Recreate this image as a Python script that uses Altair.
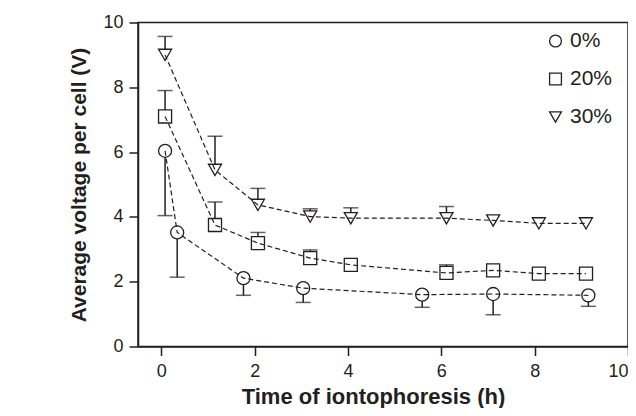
import altair as alt
import pandas as pd

# Series 0% (circles): error bars point downward
t0 = [0.08, 0.34, 1.76, 3.04, 5.59, 7.11, 9.15]
v0 = [6.04, 3.52, 2.11, 1.80, 1.60, 1.62, 1.58]
e0 = [4.04, 2.14, 1.58, 1.36, 1.21, 0.98, 1.24]

# Series 20% (squares) and 30% (triangles): error bars point upward
t20 = [0.08, 1.15, 2.07, 3.19, 4.06, 6.11, 7.11, 8.09, 9.10]
v20 = [7.10, 3.75, 3.19, 2.73, 2.52, 2.27, 2.35, 2.25, 2.25]
e20 = [7.90, 4.46, 3.52, 2.98, None, 2.52, None, None, None]

t30 = [0.08, 1.15, 2.07, 3.19, 4.06, 6.11, 7.11, 8.09, 9.10]
v30 = [9.00, 5.45, 4.37, 4.01, 3.96, 3.96, 3.89, 3.80, 3.80]
e30 = [9.57, 6.49, 4.88, 4.25, 4.28, 4.32, None, None, None]

series = ["0%", "20%", "30%"]
shapes = ["circle", "square", "triangle-down"]

rows = []
for name, ts, vs, es in [("0%", t0, v0, e0), ("20%", t20, v20, e20), ("30%", t30, v30, e30)]:
    for t, v, e in zip(ts, vs, es):
        rows.append({"t": t, "v": v, "err": e, "series": name})
df = pd.DataFrame(rows)

INK = "#231f20"

xs = alt.Scale(domain=[-0.5, 10], nice=False, zero=False)
ys = alt.Scale(domain=[0, 10], nice=False)

x_enc = alt.X("t:Q", scale=xs, axis=alt.Axis(
    values=[0, 2, 4, 6, 8, 10], title="Time of iontophoresis (h)",
    titleX=235, titleY=57, titleAlign="center", titleBaseline="alphabetic",
    titleFontSize=22, labelPadding=7))
y_enc = alt.Y("v:Q", scale=ys, axis=alt.Axis(
    values=[0, 2, 4, 6, 8, 10], title="Average voltage per cell (V)",
    titleX=-53, titleY=162, titleAngle=270, titleAlign="center", titleBaseline="alphabetic"))

base = alt.Chart(df)

err_df = base.transform_filter("isValid(datum.err)")

rules = err_df.mark_rule(color=INK, strokeWidth=1.5).encode(
    x=x_enc, y=y_enc, y2="err:Q")
caps = err_df.mark_tick(orient="horizontal", size=15, thickness=1.5, color=INK).encode(
    x="t:Q", y="err:Q")

leg = dict(title=None, orient="none", legendX=407, legendY=8,
           labelFontSize=21, labelFont="Liberation Sans", labelColor=INK,
           symbolSize=140, symbolStrokeWidth=1.3, rowPadding=16, labelOffset=4,
           padding=0)

points = base.mark_point(filled=False, fill="white", fillOpacity=1,
                         strokeWidth=1.3, size=170, opacity=1).encode(
    x="t:Q", y="v:Q",
    color=alt.Color("series:N", scale=alt.Scale(domain=series, range=[INK, INK, INK]),
                    legend=alt.Legend(**leg)),
    shape=alt.Shape("series:N", scale=alt.Scale(domain=series, range=shapes),
                    legend=alt.Legend(**leg)))

lines = base.mark_line(color=INK, strokeWidth=1.2, strokeDash=[5, 3]).encode(
    x="t:Q", y="v:Q", detail="series:N", order="t:Q")

chart = alt.layer(rules, caps, points, lines).properties(
    width=490, height=324,
    autosize=alt.AutoSizeParams(type="none"),
    padding={"left": 130, "top": 14.5, "right": 0, "bottom": 61.5},
).configure_view(
    stroke=INK, strokeWidth=1.5
).configure_axis(
    grid=False, domainColor=INK, domainWidth=1.5, tickColor=INK, tickWidth=1.5,
    tickSize=9, labelFont="Liberation Sans", labelFontSize=18, labelColor=INK,
    labelPadding=6, titleFont="Liberation Sans", titleFontSize=21,
    titleFontWeight="bold", titleColor=INK
)

chart.save("out.html", embed_options={"renderer": "svg", "actions": False})
